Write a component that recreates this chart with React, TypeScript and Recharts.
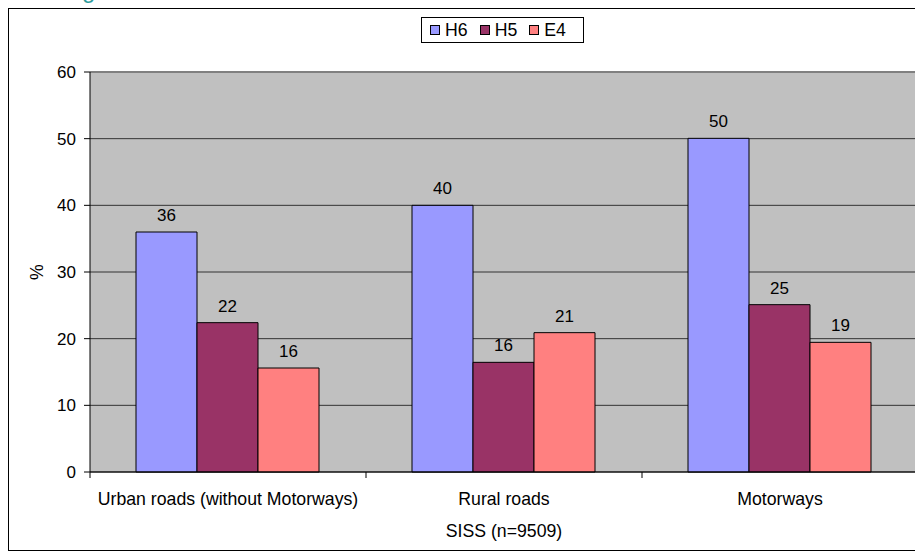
import React from 'react';
import { BarChart, Bar, XAxis, YAxis, CartesianGrid, Legend, LabelList, ReferenceLine } from 'recharts';

const categories = ['Urban roads (without Motorways)', 'Rural roads', 'Motorways'];
const h6Values = [36, 40, 50.05];
const h5Values = [22.4, 16.45, 25.1];
const e4Values = [15.6, 20.9, 19.45];
const yTicks = [0, 10, 20, 30, 40, 50, 60];
const seriesNames = ['H6', 'H5', 'E4'];
const seriesColors = ['#9999FF', '#993366', '#FF8080'];
const xTitle = 'SISS (n=9509)';
const yTitle = '%';

const data = categories.map((c, i) => ({ name: c, H6: h6Values[i], H5: h5Values[i], E4: e4Values[i] }));

const FONT = '"Liberation Sans", Arial, sans-serif';
const FS = 17;
const FS_CAT = 17.7;
const TICK = 6;

const CatTick = (props: any) => {
  const { x, y, payload, index, visibleTicksCount } = props;
  const off = payload && payload.offset != null ? payload.offset : 0;
  const last = visibleTicksCount != null ? index === visibleTicksCount - 1 : index === categories.length - 1;
  return (
    <g>
      <line x1={x - off} x2={x - off} y1={y - TICK} y2={y} stroke="#000" strokeWidth={1} />
      {last && <line x1={x + off} x2={x + off} y1={y - TICK} y2={y} stroke="#000" strokeWidth={1} />}
      <text x={x} y={y + 27} textAnchor="middle" fontSize={FS_CAT} fill="#000" fontFamily={FONT}>
        {payload.value}
      </text>
    </g>
  );
};

const renderYTitle = (p: any) => {
  const vb = p.viewBox || { x: 0, y: 63, width: 81, height: 400 };
  const cx = vb.x + 34;
  const cy = vb.y + vb.height / 2;
  return (
    <text x={cx} y={cy} transform={`rotate(-90 ${cx} ${cy})`} textAnchor="middle" fontSize={FS_CAT} fill="#000" fontFamily={FONT}>
      {yTitle}
    </text>
  );
};

const renderXTitle = (p: any) => {
  const vb = p.viewBox || { x: 81, y: 463, width: 828, height: 78 };
  return (
    <text x={vb.x + vb.width / 2} y={vb.y + 65} textAnchor="middle" fontSize={FS_CAT} fill="#000" fontFamily={FONT}>
      {xTitle}
    </text>
  );
};

const LegendBox = (props: any) => {
  const payload = [...(props.payload || [])].sort(
    (a: any, b: any) => seriesNames.indexOf(a.value) - seriesNames.indexOf(b.value)
  );
  return (
    <div
      style={{
        border: '1px solid #000',
        background: '#fff',
        height: 26,
        width: 163,
        boxSizing: 'border-box',
        display: 'flex',
        alignItems: 'center',
        paddingLeft: 8,
        fontFamily: FONT,
        fontSize: FS_CAT,
        color: '#000',
      }}
    >
      {payload.map((e: any, i: number) => (
        <div key={i} style={{ display: 'flex', alignItems: 'center', marginRight: 12 }}>
          <div style={{ width: 10, height: 10, background: e.color, border: '1px solid #000', boxSizing: 'border-box', marginRight: 5 }} />
          <span style={{ lineHeight: '20px' }}>{e.value}</span>
        </div>
      ))}
    </div>
  );
};

const fmt = (v: any) => Math.round(Number(v));

export default function App() {
  return (
    <div style={{ position: 'absolute', left: 0, top: 0, width: 915, height: 556, overflow: 'hidden', fontFamily: FONT, background: '#fff' }}>
      <div style={{ position: 'absolute', left: 82, top: -22, fontSize: 24, lineHeight: 1, color: '#2F9C9C' }}>g</div>
      <div style={{ position: 'absolute', left: 8, top: 8, width: 930, height: 541, border: '1px solid #000' }} />
      <div style={{ position: 'absolute', left: 9, top: 9 }}>
        <BarChart
          width={912}
          height={541}
          data={data}
          margin={{ top: 63, right: 3, bottom: 0, left: 0 }}
          barCategoryGap="16.67%"
          barGap={0}
        >
          <CartesianGrid vertical={false} fill="#C0C0C0" stroke="#333" strokeWidth={1} />
          <XAxis
            dataKey="name"
            height={78}
            tickLine={false}
            tickSize={TICK}
            tickMargin={0}
            axisLine={{ stroke: '#000', strokeWidth: 1 }}
            tick={<CatTick />}
            interval={0}
            label={renderXTitle}
          />
          <YAxis
            width={81}
            domain={[0, 60]}
            ticks={yTicks}
            interval={0}
            tickSize={TICK}
            tickMargin={8}
            axisLine={{ stroke: '#000', strokeWidth: 1 }}
            tickLine={{ stroke: '#000', strokeWidth: 1 }}
            tick={{ fill: '#000', fontSize: FS, fontFamily: FONT }}
            label={renderYTitle}
          />
          <ReferenceLine y={60} stroke="#808080" strokeWidth={2} />
          <Legend
            layout="horizontal"
            verticalAlign="middle"
            align="center"
            wrapperStyle={{ top: 8, left: 412, width: 163, height: 26 }}
            content={<LegendBox />}
          />
          {seriesNames.map((s, i) => (
            <Bar key={s} dataKey={s} name={s} fill={seriesColors[i]} stroke="#000" strokeWidth={1} isAnimationActive={false}>
              <LabelList dataKey={s} position="top" offset={11} formatter={fmt} fill="#000" fontSize={FS} fontFamily={FONT} />
            </Bar>
          ))}
        </BarChart>
      </div>
    </div>
  );
}
